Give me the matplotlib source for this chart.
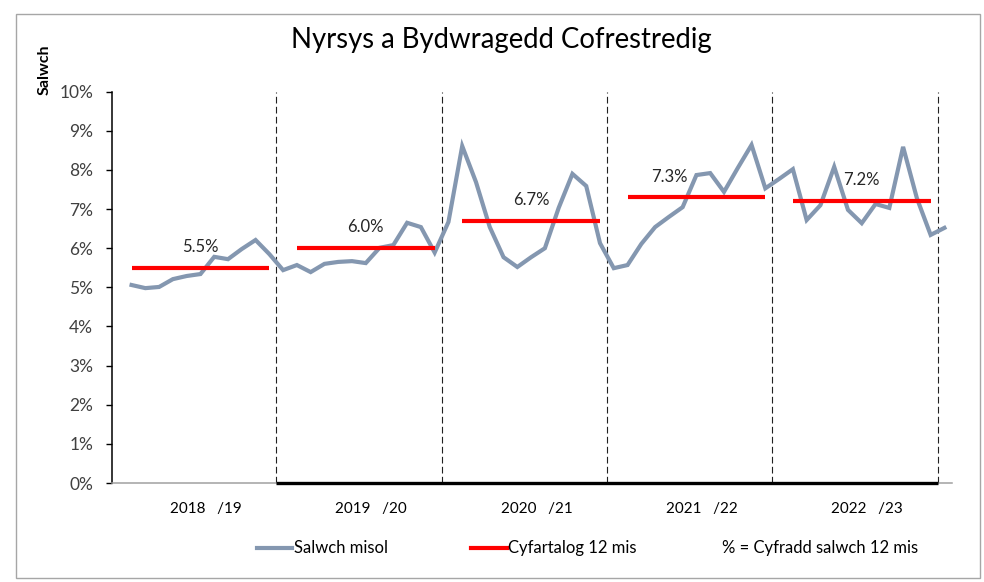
import matplotlib
matplotlib.use("Agg")
import matplotlib.pyplot as plt
import numpy as np
from matplotlib.lines import Line2D
from matplotlib.patches import Rectangle

# monthly sickness rate (%), May 2018 - Apr 2023
monthly = [5.06, 4.98, 5.01, 5.21, 5.29, 5.34, 5.78, 5.72, 5.98, 6.21, 5.85,
           5.44, 5.57, 5.39, 5.60, 5.65, 5.67, 5.62, 6.01, 6.08, 6.65, 6.54, 5.89,
           6.67, 8.61, 7.69, 6.54, 5.77, 5.52, 5.77, 6.00, 7.03, 7.90, 7.59, 6.13,
           5.49, 5.57, 6.11, 6.54, 6.80, 7.05, 7.87, 7.92, 7.44, 8.05, 8.64, 7.53,
           7.77, 8.02, 6.72, 7.10, 8.08, 6.98, 6.64, 7.13, 7.03, 8.59, 7.28, 6.34,
           6.52]
# 12 month average per financial year
yearly_avg = [5.5, 6.0, 6.7, 7.3, 7.2]
years = ["2018   /19", "2019   /20", "2020   /21", "2021   /22", "2022   /23"]

FONT = "Lato"
TXT = "#404040"
plt.rcParams["font.family"] = FONT

fig = plt.figure(figsize=(9.84, 5.82), dpi=100)
ax = fig.add_axes([112 / 984, 99 / 582, 840 / 984, 391.3 / 582])

x = np.arange(len(monthly))
ax.plot(x, monthly, color="#8497B0", lw=3.0, solid_joinstyle="miter", zorder=3)

# average lines + labels
label_shift = [0, 0, 0, -2, 0]
for k, avg in enumerate(yearly_avg):
    x0, x1 = 12 * k, 12 * k + 10
    ax.plot([x0, x1], [avg, avg], color="#FF0000", lw=3.0, solid_capstyle="butt", zorder=4)
    ax.annotate(f"{avg:.1f}%", xy=((x0 + x1) / 2 + label_shift[k], avg),
                xytext=(0, 15), textcoords="offset points",
                ha="center", va="center", fontsize=12, color="#262626")

# year dividers
bounds = [12 * k - 1.5 for k in range(1, 6)]
for b in bounds:
    ax.axvline(b, color="#202020", lw=0.8, ls=(0, (6, 3)), zorder=2)
ax.plot([bounds[0], bounds[-1]], [0, 0], color="black", lw=2.4,
        solid_capstyle="butt", zorder=5, clip_on=False)

ax.set_xlim(-1.42, 59.55)
ax.set_ylim(0, 10)
ax.set_yticks(range(0, 11))
ax.set_yticklabels([f"{v}%" for v in range(0, 11)])
ax.tick_params(axis="y", length=4.5, width=1.0, pad=9, labelsize=12.5, labelcolor=TXT)
ax.set_xticks([5.4 + 12 * k for k in range(5)])
ax.set_xticklabels(years)
ax.tick_params(axis="x", length=0, pad=14, labelsize=11, labelcolor="black")

for side in ["top", "right"]:
    ax.spines[side].set_visible(False)
ax.spines["left"].set_color("black")
ax.spines["left"].set_linewidth(1.1)
ax.spines["bottom"].set_color("#A0A0A0")
ax.spines["bottom"].set_linewidth(1.1)

fig.text(501 / 984, 1 - 40 / 582, "Nyrsys a Bydwragedd Cofrestredig",
         ha="center", va="center", fontsize=19.8, color="black")
fig.text(45 / 984, 1 - 70 / 582, "Salwch", rotation=90, ha="center", va="center",
         fontsize=11.5, fontweight="bold", color="black")

# legend
ly = 1 - 548 / 582
fig.add_artist(Line2D([257 / 984, 292 / 984], [ly, ly], color="#8497B0", lw=3.0))
fig.text(294 / 984, ly, "Salwch misol", ha="left", va="center", fontsize=12, color="black")
fig.add_artist(Line2D([471 / 984, 507 / 984], [ly, ly], color="#FF0000", lw=3.0))
fig.text(508 / 984, ly, "Cyfartalog 12 mis", ha="left", va="center", fontsize=12, color="black")
fig.text(722 / 984, ly, "% = Cyfradd salwch 12 mis", ha="left", va="center",
         fontsize=12, color="black")

fig.add_artist(Rectangle((16 / 984, 1 - 578 / 582), 964 / 984, 564 / 582,
                         transform=fig.transFigure, fill=False, ec="#A6A6A6", lw=1.0))

fig.savefig("out.png", dpi=100)
